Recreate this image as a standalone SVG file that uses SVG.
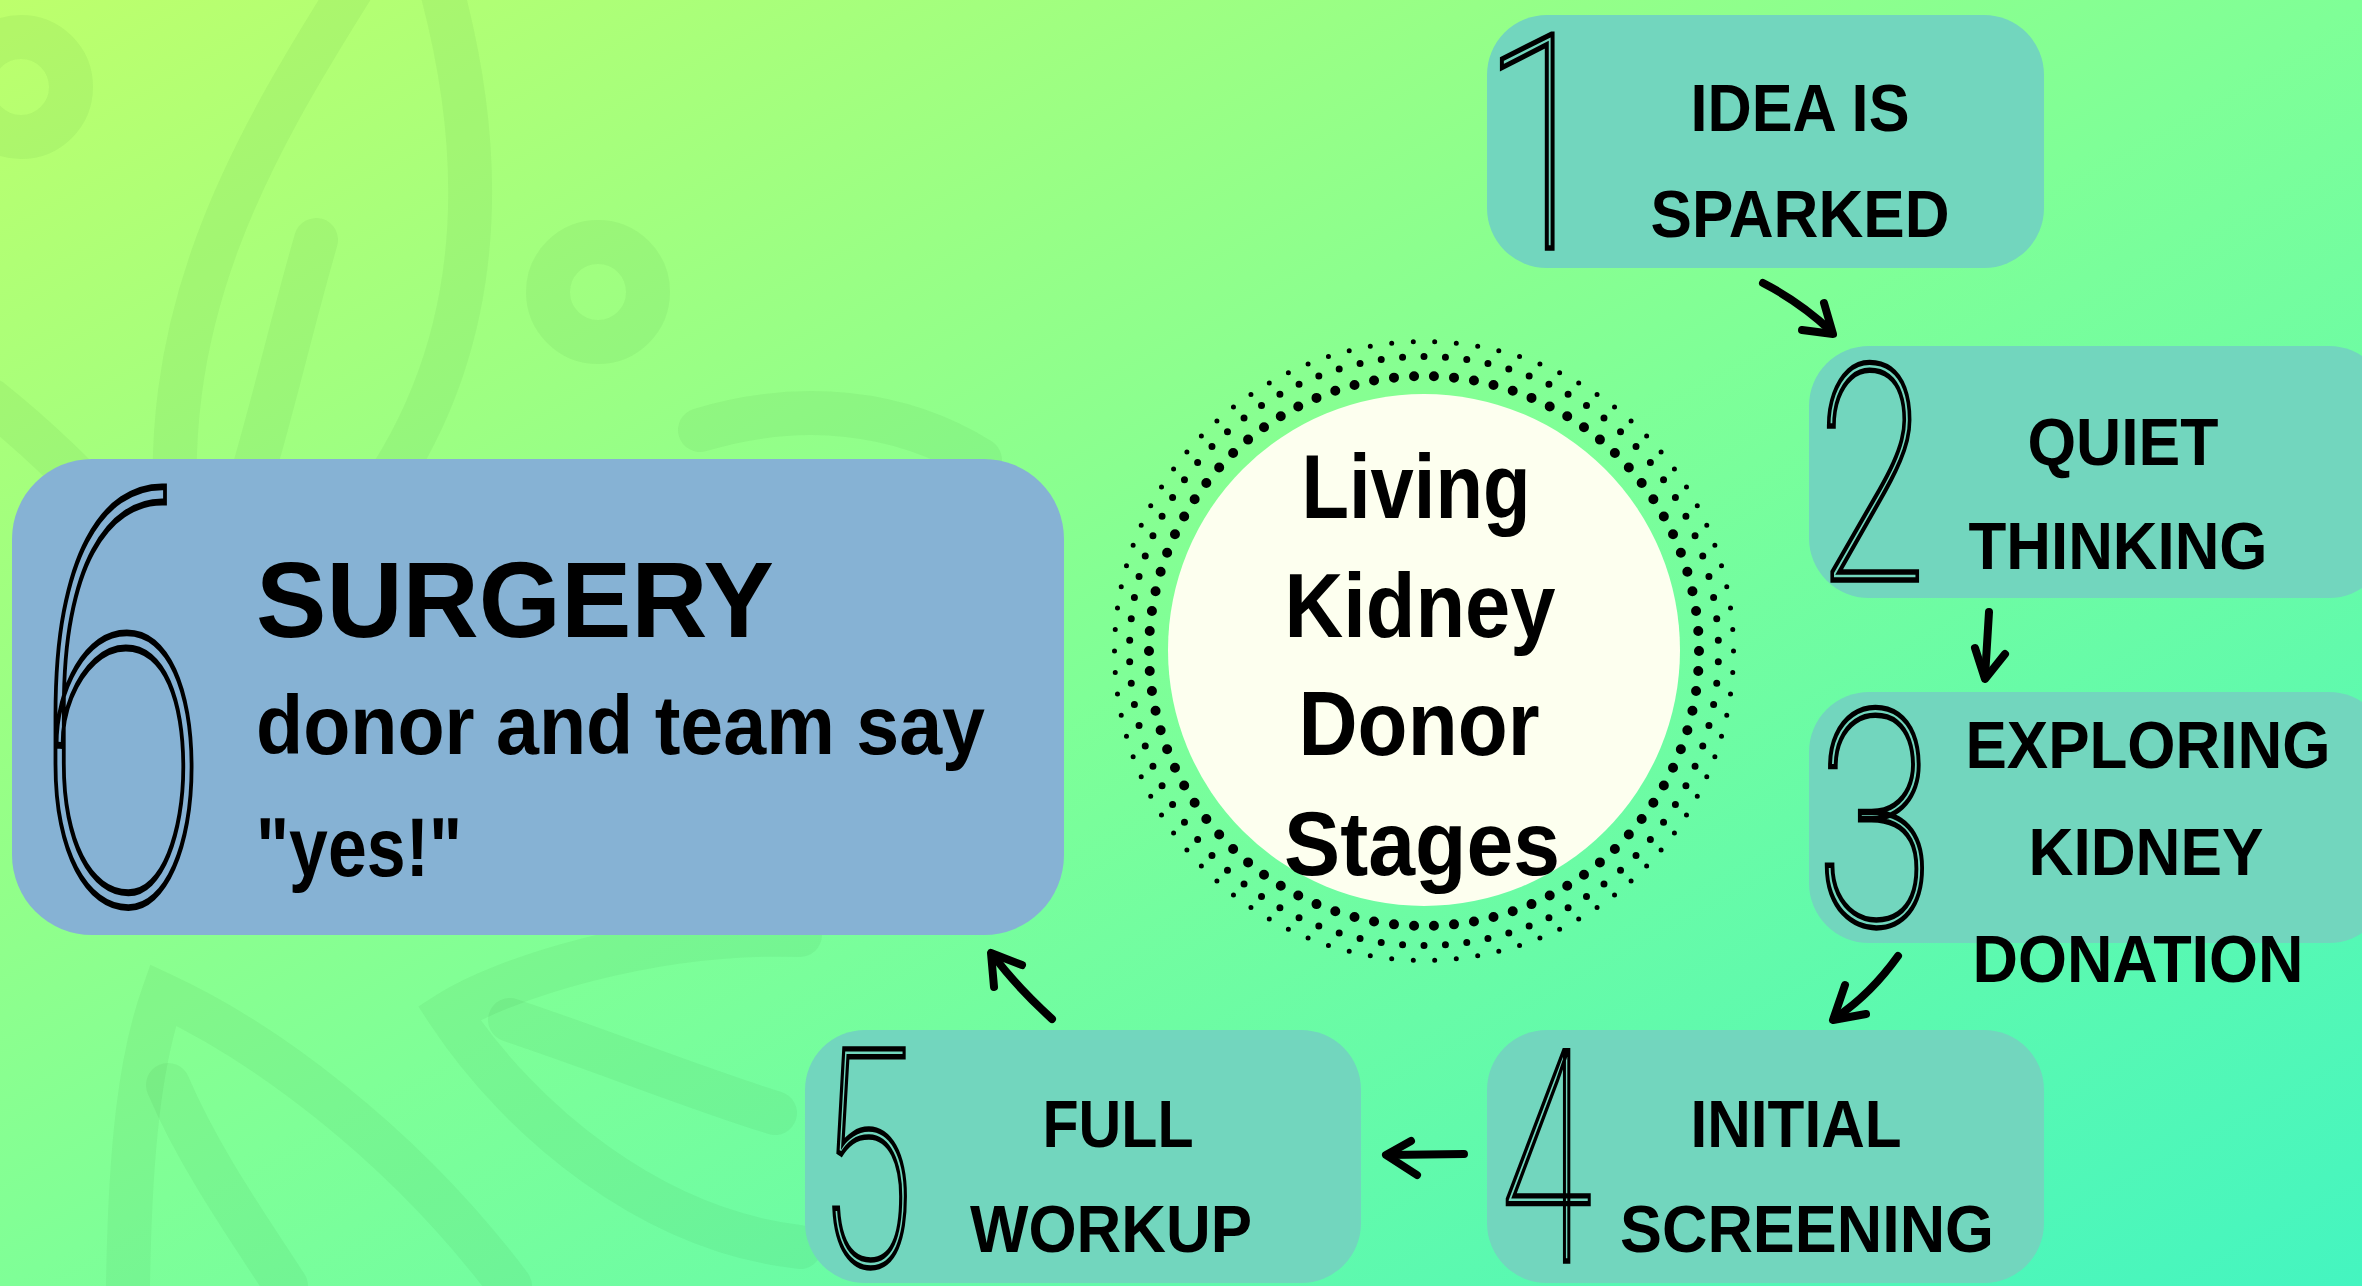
<svg xmlns="http://www.w3.org/2000/svg" width="2362" height="1286" viewBox="0 0 2362 1286">
<defs>
<linearGradient id="bg" x1="0" y1="0" x2="1" y2="1">
<stop offset="0" stop-color="#BDFF6C"/>
<stop offset="0.5" stop-color="#7FFF97"/>
<stop offset="1" stop-color="#44F5C0"/>
</linearGradient>
<style>
.box{fill:#72D6BE}
.box6{fill:#86B2D4}
.lbl{font-family:"Liberation Sans",Arial,sans-serif;font-weight:bold;font-size:66px;fill:#000;text-anchor:middle}
.ctr{font-family:"Liberation Sans",Arial,sans-serif;font-weight:bold;font-size:91px;fill:#000;text-anchor:middle}
.big{font-family:"Liberation Sans",Arial,sans-serif;font-weight:bold;fill:#000}
.num{font-family:Roboto,Lato,Inter,sans-serif;font-weight:100;font-size:200px;fill:#72D6BE;stroke:#000;stroke-width:3.6;text-anchor:middle}
.leaf{fill:none;stroke:#1a6b2a;stroke-opacity:0.06;stroke-width:44;stroke-linecap:round}
.arr{fill:none;stroke:#000;stroke-width:8;stroke-linecap:round;stroke-linejoin:round}
.dots{fill:none;stroke:#000;stroke-linecap:round}
</style>
</defs>
<rect width="2362" height="1286" fill="url(#bg)"/>
<g id="background-leaves">
<circle class="leaf" cx="21" cy="87" r="50" stroke-width="50"/>
<circle class="leaf" cx="598" cy="292" r="50" stroke-width="48"/>
<path class="leaf" d="M357,-20 C250,150 150,320 180,560"/>
<path class="leaf" d="M439,-20 C500,200 470,380 360,520"/>
<path class="leaf" d="M316,240 C290,330 270,420 245,500"/>
<path class="leaf" d="M-10,400 C40,440 80,480 97,500"/>
<path class="leaf" d="M700,430 C800,400 900,410 980,460"/>
<path class="leaf" d="M128,1286 C130,1150 140,1060 163,995 C260,1040 400,1140 510,1286"/>
<path class="leaf" d="M168,1085 C200,1160 250,1230 286,1286"/>
<path class="leaf" d="M800,935 C650,930 500,980 449,1013 C520,1120 650,1230 800,1247"/>
<path class="leaf" d="M510,1020 C600,1050 700,1090 775,1113"/>
</g>
<g id="node-1">
<rect class="box" x="1487" y="15" width="557" height="253" rx="60"/>
<text class="num" transform="translate(1542,248) scale(1.1,1.5)">1</text>
<text class="lbl" x="1800" y="131" textLength="219" lengthAdjust="spacingAndGlyphs">IDEA IS</text>
<text class="lbl" x="1800" y="237" textLength="299" lengthAdjust="spacingAndGlyphs">SPARKED</text>
</g>
<g id="node-2">
<rect class="box" x="1809" y="346" width="580" height="252" rx="60"/>
<text class="num" transform="translate(1872,580) scale(1,1.51)">2</text>
<text class="lbl" x="2123" y="465" textLength="191" lengthAdjust="spacingAndGlyphs">QUIET</text>
<text class="lbl" x="2118" y="569" textLength="299" lengthAdjust="spacingAndGlyphs">THINKING</text>
</g>
<g id="node-3">
<rect class="box" x="1809" y="692" width="580" height="251" rx="60"/>
<text class="num" transform="translate(1875,925) scale(1.08,1.51)">3</text>
<text class="lbl" x="2148" y="768" textLength="365" lengthAdjust="spacingAndGlyphs">EXPLORING</text>
<text class="lbl" x="2146" y="875" textLength="235" lengthAdjust="spacingAndGlyphs">KIDNEY</text>
<text class="lbl" x="2138" y="982" textLength="331" lengthAdjust="spacingAndGlyphs">DONATION</text>
</g>
<g id="node-4">
<rect class="box" x="1487" y="1030" width="557" height="253" rx="60"/>
<text class="num" transform="translate(1546,1261) scale(0.83,1.48)">4</text>
<text class="lbl" x="1796" y="1147" textLength="211" lengthAdjust="spacingAndGlyphs">INITIAL</text>
<text class="lbl" x="1807" y="1252" textLength="374" lengthAdjust="spacingAndGlyphs">SCREENING</text>
</g>
<g id="node-5">
<rect class="box" x="805" y="1030" width="556" height="253" rx="60"/>
<text class="num" transform="translate(866,1265) scale(0.87,1.52)">5</text>
<text class="lbl" x="1118" y="1147" textLength="151" lengthAdjust="spacingAndGlyphs">FULL</text>
<text class="lbl" x="1111" y="1252" textLength="282" lengthAdjust="spacingAndGlyphs">WORKUP</text>
</g>
<g id="node-6">
<rect class="box6" x="12" y="459" width="1052" height="476" rx="80"/>
<text class="num" style="fill:#86B2D4;font-size:300px" transform="translate(122,902) scale(1.05,1.92)">6</text>
<text class="big" x="256" y="637" font-size="107" textLength="518" lengthAdjust="spacingAndGlyphs">SURGERY</text>
<text class="big" x="256" y="754" font-size="84" textLength="729" lengthAdjust="spacingAndGlyphs">donor and team say</text>
<text class="big" x="256" y="876" font-size="84" textLength="206" lengthAdjust="spacingAndGlyphs">"yes!"</text>
</g>
<g id="center">
<circle class="dots" cx="1424" cy="651" r="275" pathLength="86" stroke-width="10" stroke-dasharray="0 1"/>
<circle class="dots" cx="1424" cy="651" r="294.5" pathLength="86" stroke-width="7" stroke-dasharray="0 1" stroke-dashoffset="0.5"/>
<circle class="dots" cx="1424" cy="651" r="309.5" pathLength="90" stroke-width="5" stroke-dasharray="0 1"/>
<circle cx="1424" cy="650" r="256" fill="#FDFFEF"/>
<text class="ctr" x="1416" y="518" textLength="229" lengthAdjust="spacingAndGlyphs">Living</text>
<text class="ctr" x="1420" y="637" textLength="271" lengthAdjust="spacingAndGlyphs">Kidney</text>
<text class="ctr" x="1419" y="755" textLength="241" lengthAdjust="spacingAndGlyphs">Donor</text>
<text class="ctr" x="1422" y="875" textLength="276" lengthAdjust="spacingAndGlyphs">Stages</text>
</g>
<g id="connectors">
<path class="arr" d="M1763,283 Q1800,302 1831,331"/>
<path class="arr" d="M1824,303 L1833,334 L1802,330"/>
<path class="arr" d="M1989,612 L1985,677"/>
<path class="arr" d="M1975,648 L1985,679 L2005,654"/>
<path class="arr" d="M1898,956 Q1870,995 1835,1018"/>
<path class="arr" d="M1845,985 L1833,1020 L1866,1014"/>
<path class="arr" d="M1464,1154 L1388,1155"/>
<path class="arr" d="M1411,1141 L1386,1155 L1417,1175"/>
<path class="arr" d="M1052,1019 Q1015,985 993,955"/>
<path class="arr" d="M1022,965 L991,953 L994,987"/>
</g>
</svg>
